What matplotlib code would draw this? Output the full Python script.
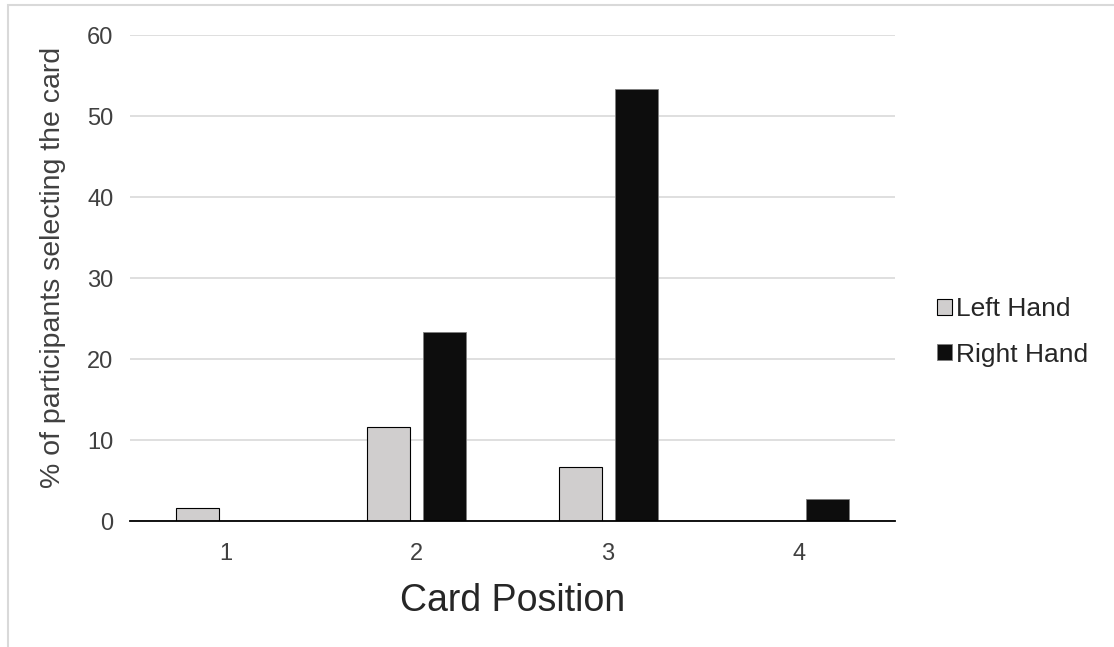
import numpy as np
import matplotlib
matplotlib.use("Agg")
import matplotlib.pyplot as plt
from matplotlib.patches import Rectangle

plt.rcParams["font.family"] = ["Liberation Sans", "DejaVu Sans"]

# ── Data ──────────────────────────────────────────────────────────────────────
positions = ["1", "2", "3", "4"]
left_hand = [1.6, 11.6, 6.7, 0.0]
right_hand = [0.0, 23.3, 53.3, 2.7]

# ── Figure ────────────────────────────────────────────────────────────────────
fig = plt.figure(figsize=(11.14, 6.47), dpi=100)
ax = fig.add_axes([0.1167, 0.1947, 0.6867, 0.7512])

# outer chart frame (light grey)
fig.patches.append(Rectangle((8 / 1114, -0.1), 1.2, (647 - 5) / 647 + 0.1,
                             transform=fig.transFigure, fill=False,
                             edgecolor="#D9D9D9", linewidth=1.5))

x = np.arange(len(positions))
w = 0.225
off = 0.146
ax.bar(x - off, left_hand, w, color="#D0CECE", edgecolor="#000000",
       linewidth=0.8, label="Left Hand", zorder=3)
ax.bar(x + off, right_hand, w, color="#0D0D0D", edgecolor="#7F7F7F",
       linewidth=0.6, label="Right Hand", zorder=3)

ax.set_xlim(-0.5, 3.5)
ax.set_ylim(0, 60)
ax.set_yticks(range(0, 61, 10))
ax.set_xticks(x)
ax.set_xticklabels(positions)
ax.yaxis.grid(True, color="#D9D9D9", linewidth=1.2, zorder=0)
ax.set_axisbelow(True)

for s in ["top", "right", "left"]:
    ax.spines[s].set_visible(False)
ax.spines["bottom"].set_color("#000000")
ax.spines["bottom"].set_linewidth(1.3)
ax.spines["bottom"].set_zorder(4)

ax.tick_params(axis="both", length=0, labelsize=17, labelcolor="#404040")
ax.tick_params(axis="y", pad=12)
ax.tick_params(axis="x", pad=16)

ax.set_ylabel("% of participants selecting the card", fontsize=20.5,
              color="#404040")
ax.yaxis.set_label_coords(-0.0837, 0.522)
ax.set_xlabel("Card Position", fontsize=27, color="#262626", labelpad=13)

ax.legend(loc="center left", bbox_to_anchor=(1.024, 0.389), frameon=False,
          fontsize=19, handlelength=0.55, handleheight=0.55, handletextpad=0.15,
          labelspacing=0.8, labelcolor="#262626")

fig.savefig("out.png", dpi=100)
